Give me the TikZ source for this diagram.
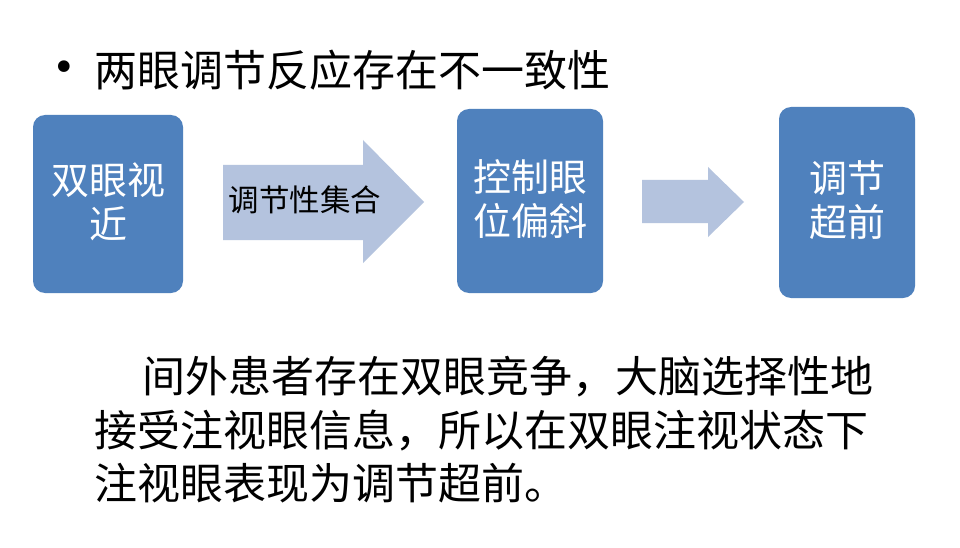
\documentclass[tikz,border=0pt]{standalone}
\usepackage{fontspec}
\newfontfamily\cjk{Noto Sans CJK SC}
\newfontfamily\dejavu{DejaVu Sans}
\definecolor{boxblue}{HTML}{4F81BD}
\definecolor{arrowblue}{HTML}{B4C3DE}
\begin{document}
\begin{tikzpicture}[x=1pt,y=-1pt,
  blockbox/.style={fill=boxblue, rounded corners=12pt, inner sep=0pt, anchor=north west},
  boxtext/.style={text=white, font=\cjk\fontsize{38}{44}\selectfont, align=center, inner sep=0pt},
  bodytext/.style={font=\cjk\fontsize{43}{50}\selectfont, anchor=west, inner sep=0pt},
  blockarrow/.style={fill=arrowblue}]
\useasboundingbox (0,0) rectangle (960,548);
\fill[white] (0,0) rectangle (960,548);
% title
\node[font=\dejavu\fontsize{40}{44}\selectfont, inner sep=0pt] (bullet) at (64,71) {•};
\node[font=\cjk\fontsize{43}{48}\selectfont, anchor=west, inner sep=0pt] (title) at (94,70) {两眼调节反应存在不一致性};
% boxes
\path[blockbox] (33,115) rectangle (183,293);
\node[boxtext] (b1) at (108,202) {双眼视\\近};
\path[blockbox] (457,109) rectangle (603,293);
\node[boxtext] (b2) at (530,199) {控制眼\\位偏斜};
\path[blockbox] (779,107) rectangle (915,298);
\node[boxtext] (b3) at (847,200) {调节\\超前};
% arrows
\fill[blockarrow] (223,165) -- (363,165) -- (363,140) -- (424,202) -- (363,263) -- (363,240) -- (223,240) -- cycle;
\node[font=\cjk\fontsize{30.5}{34}\selectfont, inner sep=0pt] (alabel) at (305,200) {调节性集合};
\fill[blockarrow] (642,180) -- (708,180) -- (708,167) -- (744,202) -- (708,237) -- (708,223) -- (642,223) -- cycle;
% body text
\node[bodytext] (l1) at (142,377) {间外患者存在双眼竞争，大脑选择性地};
\node[bodytext] (l2) at (94,431) {接受注视眼信息，所以在双眼注视状态下};
\node[bodytext] (l3) at (94,483) {注视眼表现为调节超前。};
\end{tikzpicture}
\end{document}
